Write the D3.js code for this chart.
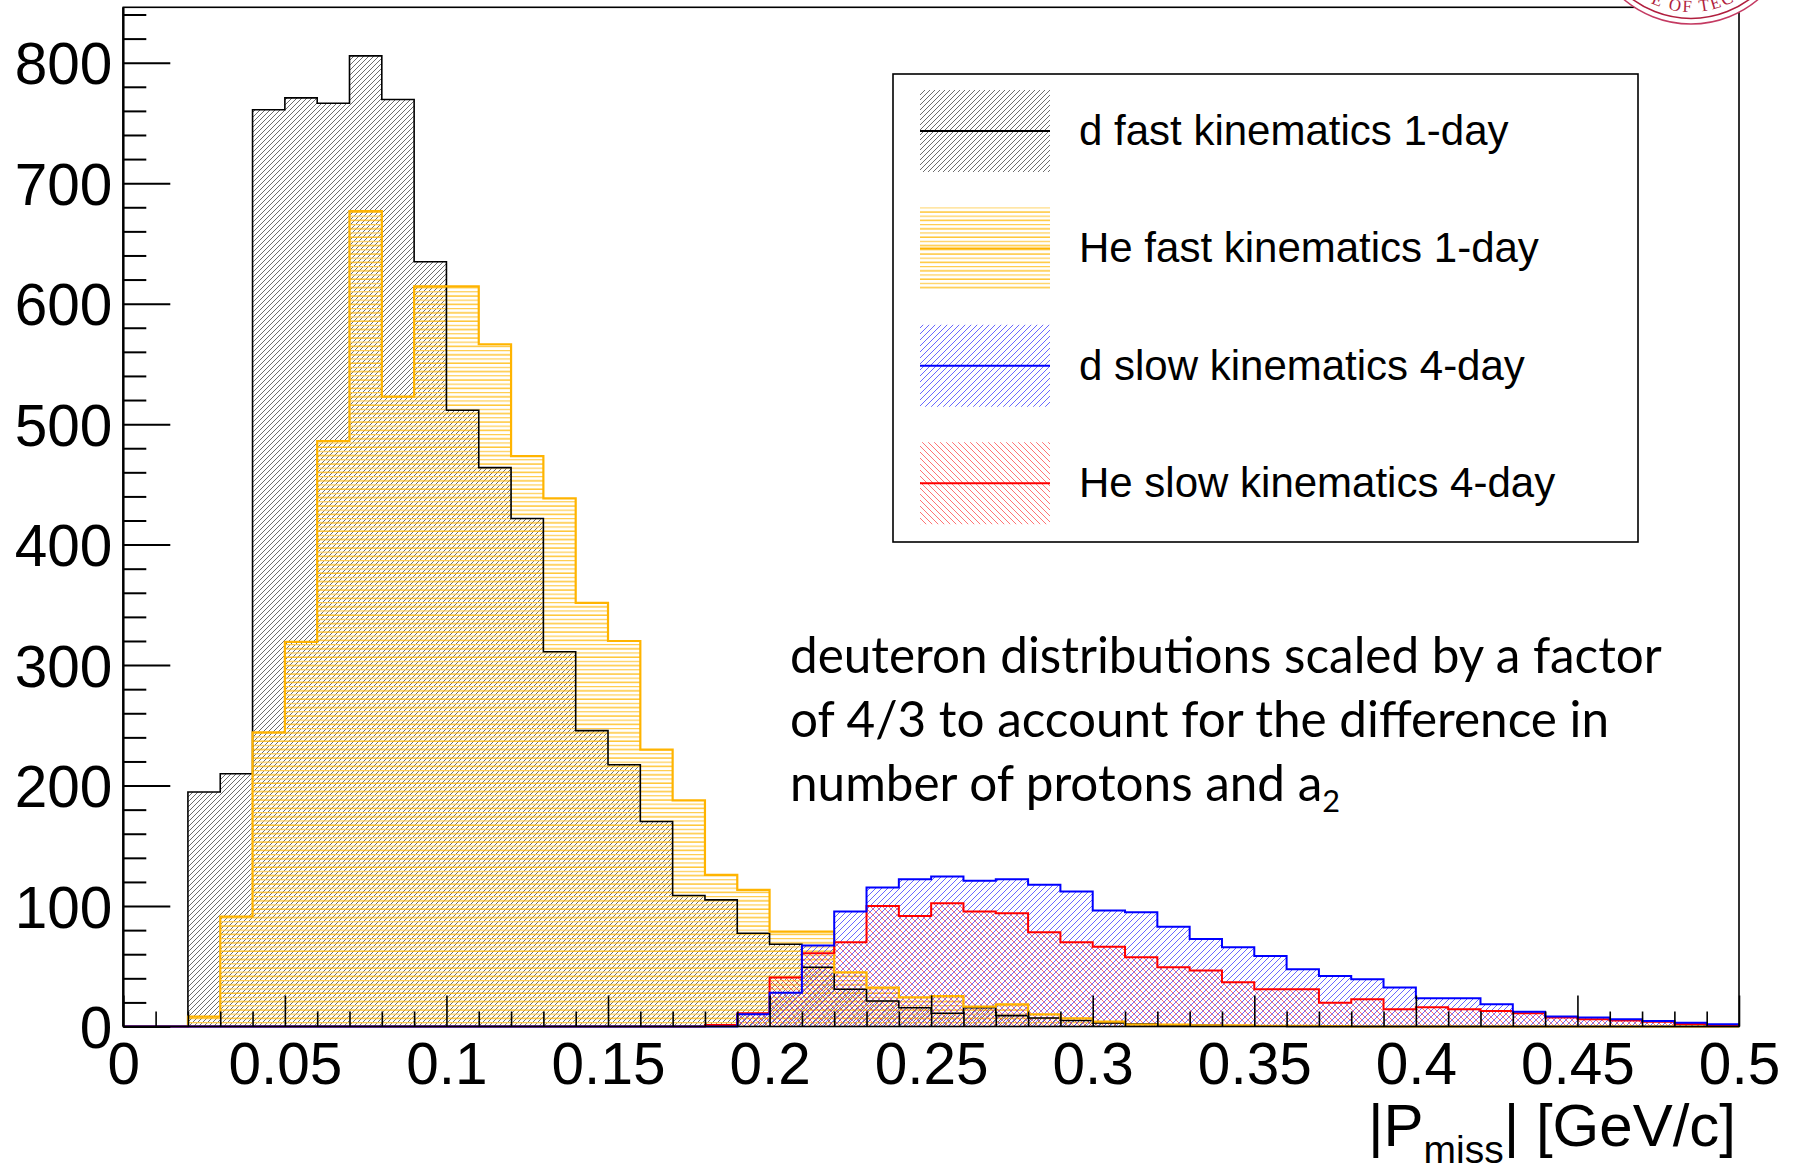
<!DOCTYPE html>
<html><head><meta charset="utf-8">
<script src="https://cdn.jsdelivr.net/npm/d3@7/dist/d3.min.js"></script>
<style>body{margin:0;background:#fff}svg{display:block}</style>
</head><body>
<svg id="c" width="1795" height="1165"></svg>
<script>
// ---------- data ----------
const binLow = [0.00,0.01,0.02,0.03,0.04,0.05,0.06,0.07,0.08,0.09,
                0.10,0.11,0.12,0.13,0.14,0.15,0.16,0.17,0.18,0.19,
                0.20,0.21,0.22,0.23,0.24,0.25,0.26,0.27,0.28,0.29,
                0.30,0.31,0.32,0.33,0.34,0.35,0.36,0.37,0.38,0.39,
                0.40,0.41,0.42,0.43,0.44,0.45,0.46,0.47,0.48,0.49];
const binWidth = 0.01;
const dFast  = [0,0,194.6,209.8,761,770.8,766.4,805.7,769.4,634.8,
                511.5,463.9,421.7,311,245.6,217.3,170.2,108.7,105.1,77.4,
                68.3,49.2,30.9,21.2,15.6,11,15.6,9,7,5,
                3,2,1,1,0.5,0.5,0,0,0,0,
                0,0,0,0,0,0,0,0,0,0];
const heFast = [0,0,8.2,91.3,244.2,319.3,486,676.8,522.9,614.3,
                614.3,566.3,473.5,438.4,351.7,320,229.8,187.7,125.9,113.4,
                78.8,78.8,45,32.3,24.2,25.3,16.5,18.4,10.1,6.8,
                4,1.5,1.5,1,1,0.5,0.5,0.3,0,0,
                0,0,0,0,0,0,0,0,0,0];
const dSlow  = [0,0,0,0,0,0,0,0,0,0,
                0,0,0,0,0,0,0,0,0,10.1,
                28.1,67.2,95.4,115.4,122.3,124.5,120.9,122.3,117.6,112,
                96.2,94.9,82.9,72.7,65.8,58.6,47.5,42,39.2,32.3,
                23.4,23.4,18.4,12.3,8.2,7.4,6,4.6,3.2,1.8];
const heSlow = [0,0,0,0,0,0,0,0,0,0,
                0,0,0,0,0,0,0,0,1.2,11,
                40.6,60.8,70,100.1,91.8,102.4,95.4,94.1,78.3,70,
                66.3,57.5,49.2,46.4,36.7,30.9,30.9,19.8,22.6,14.3,
                16,14.3,12.9,11,7.4,6,4.9,4,2,0.5];
const seriesNames = ["d fast kinematics 1-day","He fast kinematics 1-day","d slow kinematics 4-day","He slow kinematics 4-day"];
const xTickValues = [0,0.05,0.1,0.15,0.2,0.25,0.3,0.35,0.4,0.45,0.5];
const xTickLabels = ["0","0.05","0.1","0.15","0.2","0.25","0.3","0.35","0.4","0.45","0.5"];
const yTickValues = [0,100,200,300,400,500,600,700,800];
const yTickLabels = ["0","100","200","300","400","500","600","700","800"];
const noteLines = ["deuteron distributions scaled by a factor","of 4/3 to account for the difference in","number of protons and a"];
const noteSub = "2";

// ---------- setup ----------
const svg = d3.select("#c");
const L = 123.3, R = 1739, T = 7.3, B = 1026.5;
const x = d3.scaleLinear().domain([0, 0.5]).range([L, R]);
const yMax = d3.max([...dFast, ...heFast, ...dSlow, ...heSlow]) * 1.05;
const y = d3.scaleLinear().domain([0, yMax]).range([B, T]);

const defs = svg.append("defs");
function hatch(id, size, d, color, width, opacity){
  const p = defs.append("pattern").attr("id", id).attr("patternUnits","userSpaceOnUse")
    .attr("width", size).attr("height", size);
  p.append("path").attr("d", d).attr("stroke", color).attr("stroke-width", width)
    .attr("stroke-opacity", opacity).attr("fill","none");
}
hatch("hBlack", 5, "M-1,1 L1,-1 M0,5 L5,0 M4,6 L6,4", "#333", 0.9, 0.8);
hatch("hBlue", 6, "M-1,1 L1,-1 M0,6 L6,0 M5,7 L7,5", "#2a2aff", 1.0, 0.7);
hatch("hRed", 6, "M-1,5 L1,7 M0,0 L6,6 M5,-1 L7,1", "#ff2a2a", 1.0, 0.65);
{
  const p = defs.append("pattern").attr("id","hYellow").attr("patternUnits","userSpaceOnUse")
    .attr("width", 10).attr("height", 8.4);
  p.append("line").attr("x1",0).attr("x2",10).attr("y1",2).attr("y2",2)
    .attr("stroke","#ffb700").attr("stroke-width",1.2);
  p.append("line").attr("x1",0).attr("x2",10).attr("y1",6.2).attr("y2",6.2)
    .attr("stroke","#ffcc4d").attr("stroke-width",1.2);
}

const series = [
  {vals: dFast,  fill: "url(#hBlack)",  stroke: "#000",    sw: 1.6},
  {vals: heFast, fill: "url(#hYellow)", stroke: "#ffb400", sw: 2.2},
  {vals: heSlow, fill: "url(#hRed)",    stroke: "#ff0000", sw: 2.0},
  {vals: dSlow,  fill: "url(#hBlue)",   stroke: "#0000ff", sw: 2.0}
];
const line = d3.line().x(d => x(d[0])).y(d => y(d[1]));
function stepPts(vals){
  const pts = [[binLow[0], 0]];
  vals.forEach((v, i) => { pts.push([binLow[i], v]); pts.push([binLow[i] + binWidth, v]); });
  pts.push([binLow[binLow.length-1] + binWidth, 0]);
  return pts;
}
const gH = svg.append("g");
series.forEach(s => {
  gH.append("path").attr("d", line(stepPts(s.vals)) + "Z").attr("fill", s.fill).attr("stroke","none");
});
series.forEach(s => {
  gH.append("path").attr("d", line(stepPts(s.vals))).attr("fill","none")
    .attr("stroke", s.stroke).attr("stroke-width", s.sw).attr("stroke-linejoin","miter");
});

// ---------- axes ----------
const tickFont = "'Liberation Sans', Arial, Helvetica, sans-serif";
const yMinor = d3.range(0, 841, 20).filter(v => v % 100 !== 0);
const gyMinor = svg.append("g").attr("transform", `translate(${L},0)`)
  .call(d3.axisLeft(y).tickValues(yMinor).tickSize(-23).tickFormat(""));
const gy = svg.append("g").attr("transform", `translate(${L},0)`)
  .call(d3.axisLeft(y).tickValues(yTickValues).tickSizeInner(-47).tickSizeOuter(0).tickPadding(11)
    .tickFormat((d,i) => yTickLabels[i]));
[gy, gyMinor].forEach(g => { g.select(".domain").remove(); g.selectAll("line").attr("stroke","#000").attr("stroke-width",2); });
gy.selectAll("text").attr("font-family", tickFont).attr("font-size", 58.5).attr("fill","#000").attr("dy","0.36em");

const xMinor = binLow.filter((v,i) => i % 5 !== 0);
const gxMinor = svg.append("g").attr("transform", `translate(0,${B})`)
  .call(d3.axisBottom(x).tickValues(xMinor).tickSize(-15).tickFormat(""));
const gx = svg.append("g").attr("transform", `translate(0,${B})`)
  .call(d3.axisBottom(x).tickValues(xTickValues).tickSizeInner(-31).tickSizeOuter(0).tickPadding(16)
    .tickFormat((d,i) => xTickLabels[i]));
[gx, gxMinor].forEach(g => { g.select(".domain").remove(); g.selectAll("line").attr("stroke","#000").attr("stroke-width",1.6); });
gx.selectAll("text").attr("font-family", tickFont).attr("font-size", 58.5).attr("fill","#000");

// frame
svg.append("rect").attr("x", L).attr("y", T).attr("width", R - L).attr("height", B - T)
  .attr("fill","none").attr("stroke","#000").attr("stroke-width",1.6);
svg.append("line").attr("x1", L).attr("x2", L).attr("y1", T).attr("y2", B).attr("stroke","#000").attr("stroke-width",2.4);

// axis title
const title = svg.append("text").attr("x", 1736).attr("y", 1146).attr("text-anchor","end")
  .attr("font-family", tickFont).attr("font-size", 60).attr("fill","#000");
title.append("tspan").text("|P");
title.append("tspan").attr("font-size", 39).attr("dy", 17).text("miss");
title.append("tspan").attr("dy", -17).text("| [GeV/c]");

// ---------- legend ----------
const lg = svg.append("g");
lg.append("rect").attr("x", 893).attr("y", 74).attr("width", 745).attr("height", 468)
  .attr("fill","#fff").attr("stroke","#000").attr("stroke-width",1.6);
const legSeries = [series[0], series[1], series[3], series[2]];
seriesNames.forEach((name, i) => {
  const cy = 131 + i * 117.4, s = legSeries[i];
  lg.append("rect").attr("x", 920).attr("y", cy - 41).attr("width", 130).attr("height", 82).attr("fill", s.fill);
  lg.append("line").attr("x1", 920).attr("x2", 1050).attr("y1", cy).attr("y2", cy)
    .attr("stroke", s.stroke).attr("stroke-width", 2);
  lg.append("text").attr("x", 1079).attr("y", cy + 14).attr("font-family", tickFont)
    .attr("font-size", 42).attr("fill","#000").text(name);
});

// ---------- annotation ----------
const noteFont = "Lato, 'Open Sans', sans-serif";
const ng = svg.append("g");
const baseY = [673, 737, 801];
const nts = noteLines.map((t, i) => ng.append("text").attr("x", 790).attr("y", baseY[i])
  .attr("font-family", noteFont).attr("font-size", 46).attr("fill","#000").text(t));
const w0 = nts[0].node().getComputedTextLength();
const fs = Math.max(38, Math.min(50, 46 * 872 / w0));
nts.forEach(t => t.attr("font-size", fs));
nts[2].append("tspan").attr("font-size", fs * 0.62).attr("dy", 11).text(noteSub);

// ---------- seal (top-right) ----------
const cx = 1691, cyc = -80;
const seal = svg.append("g");
seal.append("circle").attr("cx", cx).attr("cy", cyc).attr("r", 104).attr("fill","#fff")
  .attr("stroke","#c43a62").attr("stroke-width",1.5);
seal.append("circle").attr("cx", cx).attr("cy", cyc).attr("r", 98.5).attr("fill","none")
  .attr("stroke","#b01e3e").attr("stroke-width",1.6);
const rr = 92;
const a1 = 130 * Math.PI / 180, a2 = 50 * Math.PI / 180;
defs.append("path").attr("id","sealArc")
  .attr("d", `M${cx + rr*Math.cos(a1)},${cyc + rr*Math.sin(a1)} A${rr},${rr} 0 0 0 ${cx + rr*Math.cos(a2)},${cyc + rr*Math.sin(a2)}`);
seal.append("text").attr("font-family","'Liberation Serif', 'DejaVu Serif', serif").attr("font-size",17)
  .attr("fill","#b01e3e").attr("letter-spacing",2)
  .append("textPath").attr("href","#sealArc").attr("startOffset","52%").attr("text-anchor","middle")
  .text("INSTITUTE OF TECHNOLOGY".slice(8, 16));
</script>
</body></html>
